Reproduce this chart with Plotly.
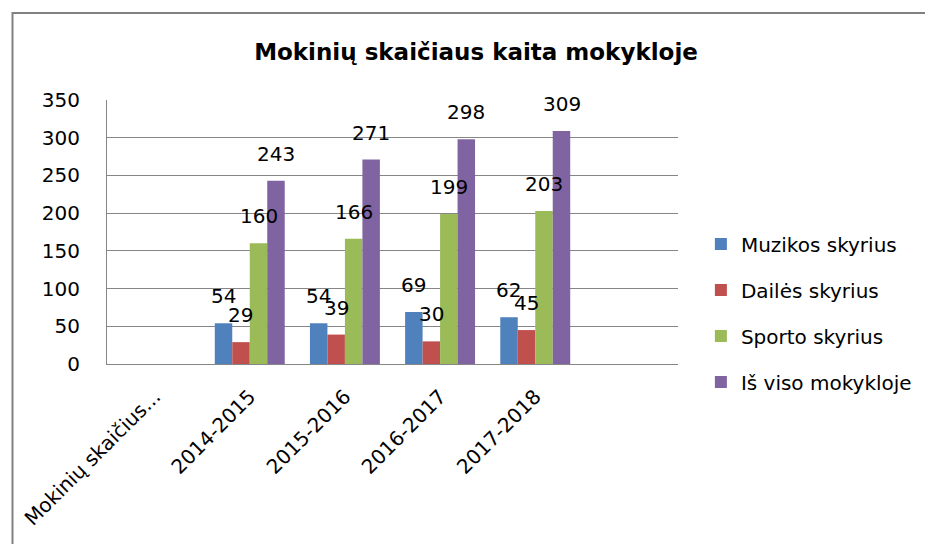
import plotly.graph_objects as go

categories = ["Mokinių skaičius...", "2014-2015", "2015-2016", "2016-2017", "2017-2018", " "]
series_names = ["Muzikos skyrius", "Dailės skyrius", "Sporto skyrius", "Iš viso mokykloje"]
muzikos = [None, 54, 54, 69, 62, None]
dailes = [None, 29, 39, 30, 45, None]
sporto = [None, 160, 166, 199, 203, None]
is_viso = [None, 243, 271, 298, 309, None]
y_ticks = [0, 50, 100, 150, 200, 250, 300, 350]

series_values = [muzikos, dailes, sporto, is_viso]
colors = ["#4F81BD", "#C0504D", "#9BBB59", "#8064A2"]

FONT = "DejaVu Sans"
# page body has an 8px margin; positions below are in page pixels, shifted by OFF
OFF = 8
W, H = 933 - OFF, 544 - OFF
ML = 104 - OFF
MT = 100 - OFF
PR = 678 - OFF   # plot right edge
PB = 364 - OFF   # plot bottom edge
MR = W - PR
MB = H - PB
PW = PR - ML
PH = PB - MT
BARGAP = 0.265

fig = go.Figure()
for i, (name, vals, col) in enumerate(zip(series_names, series_values, colors)):
    fig.add_trace(go.Bar(
        x=categories, y=vals, name=name, marker_color=col,
        marker_line_width=0, legendgroup=name,
    ))

# data labels above bars
cat_w = PW / len(categories)
bar_w = cat_w * (1 - BARGAP) / len(series_names)
annotations = []
for i, vals in enumerate(series_values):
    off = (i - (len(series_names) - 1) / 2) * bar_w
    for c, v in zip(categories, vals):
        if v is None:
            continue
        annotations.append(dict(
            x=c, y=v, xref="x", yref="y", text=str(v), showarrow=False,
            xshift=off, yshift=13, yanchor="bottom", xanchor="center",
            font=dict(family=FONT, size=20, color="#000000"),
        ))

def px_to_paper_x(px):
    return (px - OFF - ML) / PW

def px_to_paper_y(py):
    return (PB - (py - OFF)) / PH

fig.update_layout(
    width=W, height=H,
    margin=dict(l=ML, r=MR, t=MT, b=MB),
    paper_bgcolor="white", plot_bgcolor="white",
    barmode="group", bargap=BARGAP, bargroupgap=0,
    title=dict(text="<b>Mokinių skaičiaus kaita mokykloje</b>", x=(476 - OFF) / W, xanchor="center",
               y=1 - (52 - OFF) / H, yanchor="middle", xref="container", yref="container",
               font=dict(family=FONT, size=23, color="#000000")),
    font=dict(family=FONT, size=20, color="#000000"),
    showlegend=True,
    legend=dict(x=px_to_paper_x(701), xanchor="left", y=px_to_paper_y(313), yanchor="middle",
                font=dict(family=FONT, size=20, color="#000000"),
                tracegroupgap=17, itemwidth=30, borderwidth=0, bgcolor="rgba(0,0,0,0)"),
    xaxis=dict(categoryorder="array", categoryarray=categories, tickangle=-45,
               showline=True, linecolor="#868686", linewidth=1, showgrid=False,
               ticks="", ticklabelstandoff=12,
               tickfont=dict(family=FONT, size=20, color="#000000")),
    yaxis=dict(range=[0, 350], tickvals=y_ticks, showgrid=True, gridcolor="#868686", gridwidth=1,
               showline=True, linecolor="#868686", linewidth=1, ticks="", ticklabelstandoff=22,
               zeroline=False, tickfont=dict(family=FONT, size=20, color="#000000")),
    annotations=annotations,
    shapes=[dict(type="rect", xref="paper", yref="paper",
                 x0=px_to_paper_x(9), x1=px_to_paper_x(960),
                 y0=px_to_paper_y(580), y1=px_to_paper_y(13),
                 line=dict(color="#808080", width=2), fillcolor="rgba(0,0,0,0)", layer="below")],
)

fig.write_html("out.html")
